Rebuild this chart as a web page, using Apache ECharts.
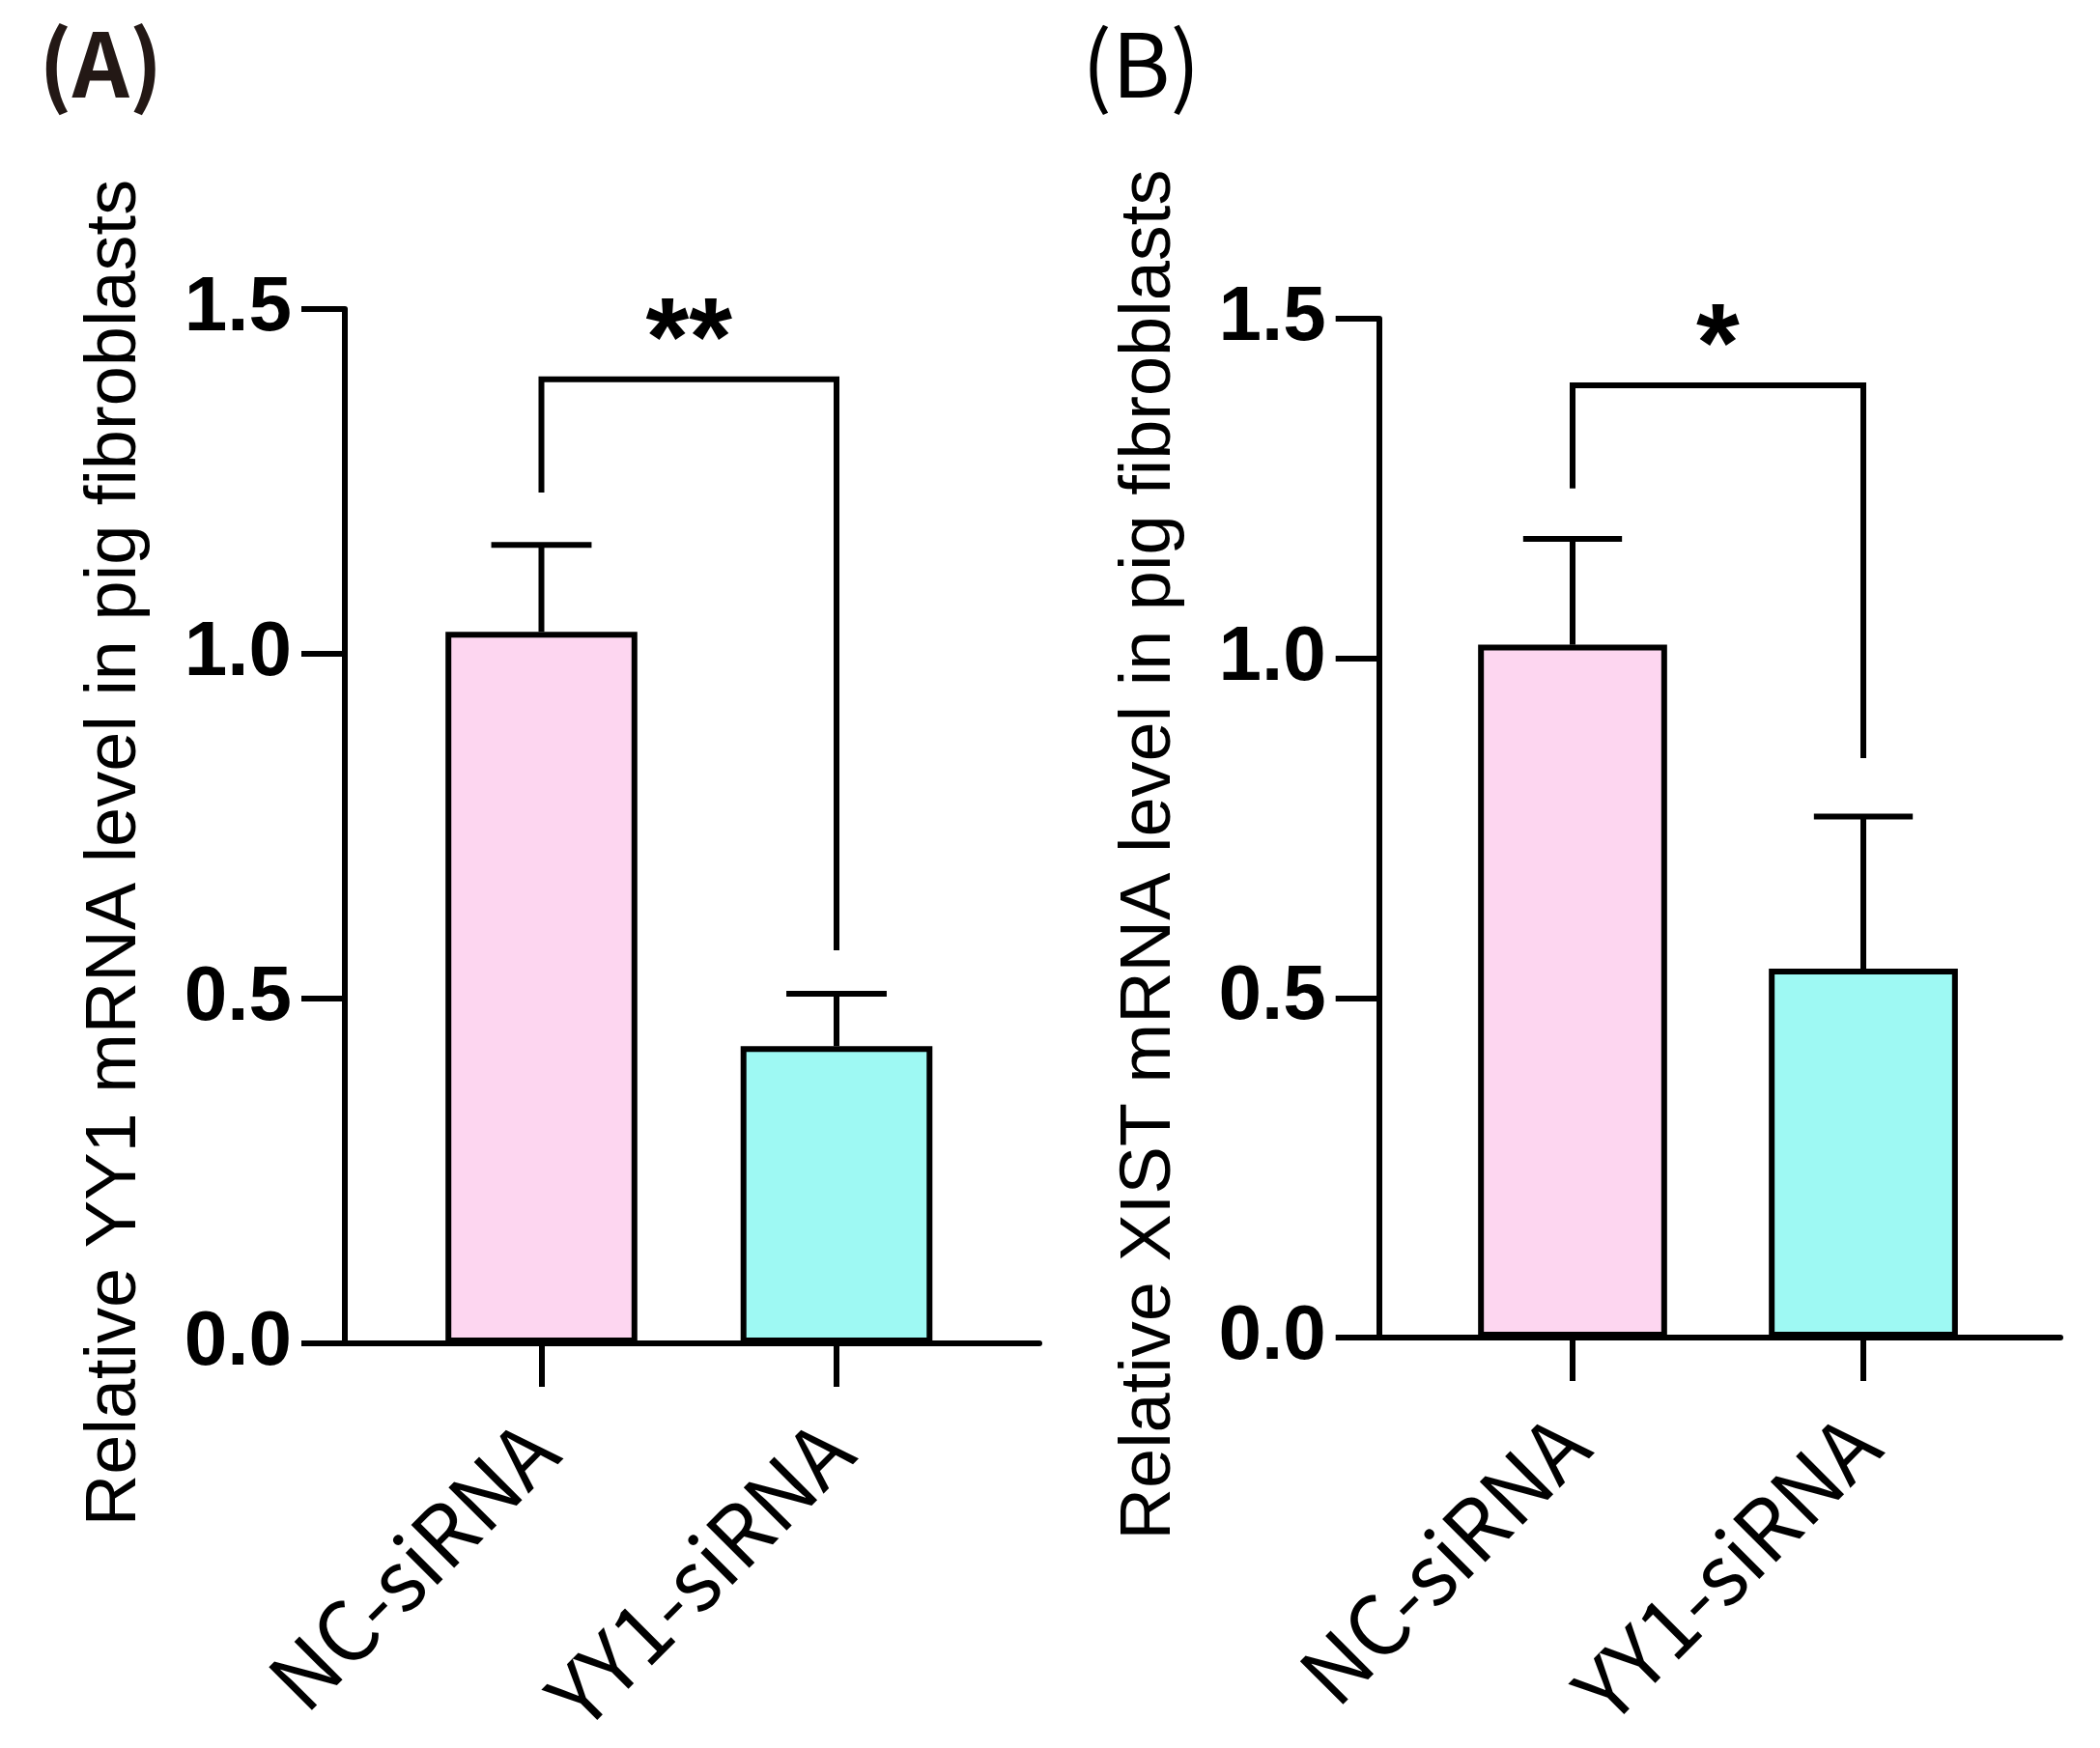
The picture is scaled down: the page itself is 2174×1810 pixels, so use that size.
<!DOCTYPE html>
<html>
<head>
<meta charset="utf-8">
<script src="https://cdn.jsdelivr.net/npm/echarts@6/dist/echarts.min.js"></script>
<style>
  html, body { margin: 0; padding: 0; background: #ffffff; }
  #chart { width: 2174px; height: 1810px; }
</style>
</head>
<body>
<div id="chart"></div>
<script>
// ---------------- data ----------------
const categories = ['NC-siRNA', 'YY1-siRNA'];

// Panel A: relative YY1 mRNA level
const yy1Means = [1.032, 0.431];
const yy1ErrUpper = [0.126, 0.076];
// bracket: [left leg end, bracket top, right leg end]
const yy1BracketLevels = [1.234, 1.398, 0.570];
const yy1Significance = '**';

// Panel B: relative XIST mRNA level
const xistMeans = [1.020, 0.543];
const xistErrUpper = [0.156, 0.224];
const xistBracketLevels = [1.250, 1.402, 0.853];
const xistSignificance = '*';

// y axis scale / tick labels
const yMin = 0;
const yMax = 1.5;
const yStep = 0.5;

const panelLabels = ['(A)', '(B)'];
const yTitles = [
  'Relative YY1 mRNA level in pig fibroblasts',
  'Relative XIST mRNA level in pig fibroblasts'
];

// ---------------- styles ----------------
const barColors = ['#FDD6F0', '#9EF9F3'];
const LW = 6;
const numFont = 'Liberation Sans, Arial, sans-serif';
const catFont = 'Noto Sans CJK SC, Noto Sans, sans-serif';

function errorBarRender(params, api) {
  const x = api.value(0), mean = api.value(1), err = api.value(2);
  const base = api.coord([x, mean]);
  const top = api.coord([x, mean + err]);
  const halfCap = api.size([1, 0])[0] * 0.17;
  return {
    type: 'group',
    children: [
      { type: 'line', shape: { x1: base[0], y1: base[1], x2: top[0], y2: top[1] },
        style: { stroke: '#000', lineWidth: LW } },
      { type: 'line', shape: { x1: top[0] - halfCap, y1: top[1], x2: top[0] + halfCap, y2: top[1] },
        style: { stroke: '#000', lineWidth: LW } }
    ]
  };
}

function makeBracketRender(label) {
  return function (params, api) {
    const i0 = api.value(0), i1 = api.value(1);
    const pL = api.coord([i0, api.value(2)]);
    const pT0 = api.coord([i0, api.value(3)]);
    const pT1 = api.coord([i1, api.value(3)]);
    const pR = api.coord([i1, api.value(4)]);
    return {
      type: 'group',
      children: [
        { type: 'polyline',
          shape: { points: [pL, pT0, pT1, pR] },
          style: { stroke: '#000', lineWidth: LW, fill: null, lineJoin: 'miter' } },
        { type: 'text',
          x: (pT0[0] + pT1[0]) / 2, y: pT0[1] - 37,
          style: { text: label, fontSize: 115, fontWeight: 'bold', fontFamily: numFont,
                   fill: '#000', align: 'center', verticalAlign: 'middle' } }
      ]
    };
  };
}

function frameX(gridIndex) {
  return {
    type: 'value', gridIndex: gridIndex, min: 0, max: 1,
    axisLine: { show: true, onZero: false, lineStyle: { color: '#000', width: LW } },
    axisTick: { show: false }, axisLabel: { show: false }, splitLine: { show: false }
  };
}
function frameY(gridIndex, title) {
  return {
    type: 'value', gridIndex: gridIndex, min: yMin, max: yMax, interval: yStep,
    axisLine: { show: true, lineStyle: { color: '#000', width: LW } },
    axisTick: { show: true, length: 45, lineStyle: { color: '#000', width: LW } },
    axisLabel: { show: true, margin: 55, fontSize: 80, fontWeight: 'bold', fontFamily: numFont,
                 color: '#000', formatter: v => v.toFixed(1) },
    splitLine: { show: false },
    name: title, nameLocation: 'middle', nameGap: 200,
    nameTextStyle: { fontSize: 74, fontFamily: numFont, color: '#000', padding: [0, 55, 0, 0] }
  };
}
function barX(gridIndex) {
  return {
    type: 'category', gridIndex: gridIndex, data: categories, boundaryGap: true,
    axisLine: { show: false },
    axisTick: { show: true, alignWithLabel: true, length: 45, lineStyle: { color: '#000', width: LW } },
    axisLabel: { show: true, interval: 0, rotate: 45, margin: 96, fontSize: 86,
                 fontFamily: catFont, color: '#000' },
    splitLine: { show: false }
  };
}
function barY(gridIndex) {
  return { type: 'value', gridIndex: gridIndex, min: yMin, max: yMax, interval: yStep, show: false,
           splitLine: { show: false } };
}

function barSeries(axisIdx, means) {
  return {
    type: 'bar', xAxisIndex: axisIdx, yAxisIndex: axisIdx, barWidth: '65%',
    data: means.map((v, i) => ({ value: v, itemStyle: { color: barColors[i] } })),
    itemStyle: { borderColor: '#000', borderWidth: LW },
    z: 2
  };
}
function errSeries(axisIdx, means, errs) {
  return {
    type: 'custom', xAxisIndex: axisIdx, yAxisIndex: axisIdx,
    data: means.map((m, i) => [i, m, errs[i]]),
    renderItem: errorBarRender, z: 3
  };
}
function bracketSeries(axisIdx, levels, label) {
  return {
    type: 'custom', xAxisIndex: axisIdx, yAxisIndex: axisIdx,
    data: [[0, 1, levels[0], levels[1], levels[2]]],
    renderItem: makeBracketRender(label), z: 3
  };
}

const chart = echarts.init(document.getElementById('chart'), null, { renderer: 'canvas' });
chart.setOption({
  animation: false,
  backgroundColor: '#ffffff',
  title: [
    { text: panelLabels[0], left: 40, top: 20, padding: 0,
      textStyle: { fontSize: 92, fontWeight: 'bold', fontFamily: catFont, color: '#231815' } },
    { text: panelLabels[1], left: 1120, top: 20, padding: 0,
      textStyle: { fontSize: 92, fontWeight: 'normal', fontFamily: catFont, color: '#000' } }
  ],
  grid: [
    { left: 357, top: 320, width: 719, height: 1071 },
    { left: 407.75, top: 320, width: 611, height: 1071 },
    { left: 1427.7, top: 330, width: 705.3, height: 1055 },
    { left: 1477.5, top: 330, width: 602, height: 1055 }
  ],
  xAxis: [frameX(0), barX(1), frameX(2), barX(3)],
  yAxis: [frameY(0, yTitles[0]), barY(1), frameY(2, yTitles[1]), barY(3)],
  series: [
    barSeries(1, yy1Means),
    errSeries(1, yy1Means, yy1ErrUpper),
    bracketSeries(1, yy1BracketLevels, yy1Significance),
    barSeries(3, xistMeans),
    errSeries(3, xistMeans, xistErrUpper),
    bracketSeries(3, xistBracketLevels, xistSignificance)
  ]
});
</script>
</body>
</html>
